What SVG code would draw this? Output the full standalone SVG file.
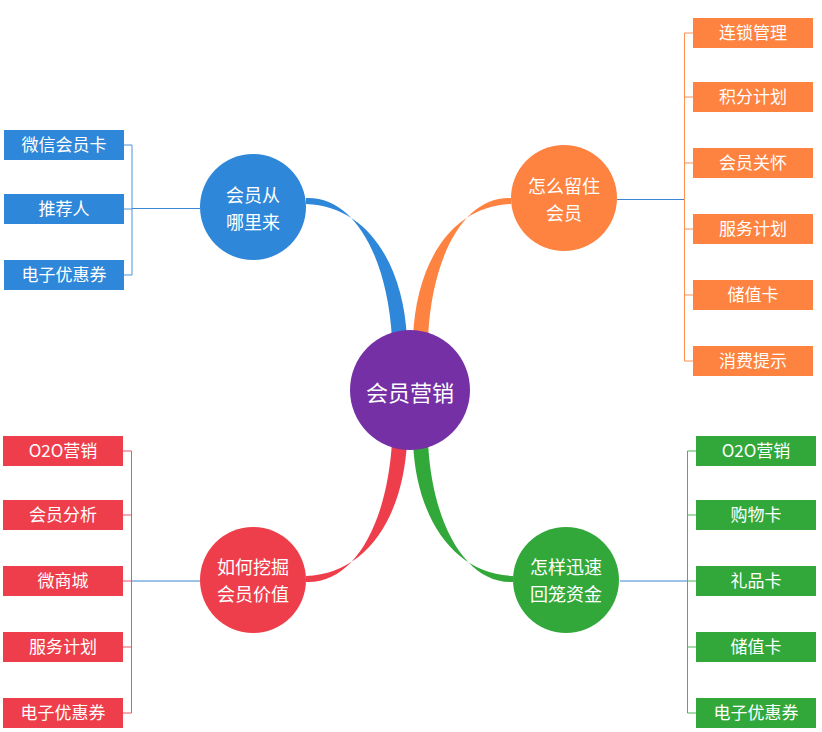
<svg xmlns="http://www.w3.org/2000/svg" width="822" height="732" viewBox="0 0 822 732">
<style>
.t{font-family:"Noto Sans CJK SC","Microsoft YaHei",sans-serif;fill:#fff;text-anchor:middle;dominant-baseline:central}
.bx{font-size:17px}
.ct{font-size:18px}
.br{fill:none;stroke-width:1}
.blue{fill:#2e87d9}.orange{fill:#ff8340}.red{fill:#ee3e4b}.green{fill:#32a83b}
.sb{stroke:#4a94dc}.so{stroke:#ff9050}.sr{stroke:#ee5562}.sg{stroke:#4cb355}
.link{stroke:#3a86d4;stroke-width:1.2;fill:none}
</style>
<rect width="822" height="732" fill="#fff"/>
<g id="connectors">
  <path class="blue" d="M306,198 C354,196 387,256 392,338 L407,338 C403,262 366,206 306,204 Z"/>
  <path class="orange" d="M511,198 C464,196 432,256 428,338 L413,338 C416,262 452,206 511,204 Z"/>
  <path class="red" d="M306,582 C354,584 387,524 392,442 L407,442 C403,518 366,574 306,576 Z"/>
  <path class="green" d="M513,582 C466,584 432,524 428,442 L413,442 C416,518 454,574 513,576 Z"/>
  <path class="link" d="M132,208.5 H200"/>
  <path class="br sb" d="M124,145 H132 V275 H124 M124,209 H132"/>
  <path class="link" d="M617,199.5 H684.5"/>
  <path class="br so" d="M693,33 H684.5 V361 H693 M684.5,97 H693 M684.5,163 H693 M684.5,229 H693 M684.5,295 H693"/>
  <path class="link" d="M131.5,581 H200"/>
  <path class="br sr" d="M123,451 H131.5 V713 H123 M123,515 H131.5 M123,581 H131.5 M123,647 H131.5"/>
  <path class="link" d="M620,581 H687.5"/>
  <path class="br sg" d="M696,451 H687.5 V713 H696 M687.5,515 H696 M687.5,581 H696 M687.5,647 H696"/>
</g>
<g id="center">
  <circle cx="410" cy="390" r="60" fill="#7530a5"/>
  <text class="t" x="410" y="391" font-size="22">会员营销</text>
</g>
<g id="where">
  <circle class="blue" cx="253" cy="207" r="53"/>
  <text class="t ct" x="253" y="194">会员从</text>
  <text class="t ct" x="253" y="221">哪里来</text>
</g>
<g id="keep">
  <circle class="orange" cx="564" cy="198" r="53"/>
  <text class="t ct" x="564" y="185">怎么留住</text>
  <text class="t ct" x="564" y="212">会员</text>
</g>
<g id="value">
  <circle class="red" cx="253" cy="580" r="53"/>
  <text class="t ct" x="253" y="566">如何挖掘</text>
  <text class="t ct" x="253" y="593">会员价值</text>
</g>
<g id="fund">
  <circle class="green" cx="566" cy="580" r="53"/>
  <text class="t ct" x="566" y="566">怎样迅速</text>
  <text class="t ct" x="566" y="593">回笼资金</text>
</g>
<g id="b1"><rect class="blue" x="4" y="130" width="120" height="30"/><text class="t bx" x="64" y="143.5">微信会员卡</text></g>
<g id="b2"><rect class="blue" x="4" y="194" width="120" height="30"/><text class="t bx" x="64" y="207.5">推荐人</text></g>
<g id="b3"><rect class="blue" x="4" y="260" width="120" height="30"/><text class="t bx" x="64" y="273.5">电子优惠券</text></g>
<g id="o1"><rect class="orange" x="693" y="18" width="120" height="30"/><text class="t bx" x="753" y="31.5">连锁管理</text></g>
<g id="o2"><rect class="orange" x="693" y="82" width="120" height="30"/><text class="t bx" x="753" y="95.5">积分计划</text></g>
<g id="o3"><rect class="orange" x="693" y="148" width="120" height="30"/><text class="t bx" x="753" y="161.5">会员关怀</text></g>
<g id="o4"><rect class="orange" x="693" y="214" width="120" height="30"/><text class="t bx" x="753" y="227.5">服务计划</text></g>
<g id="o5"><rect class="orange" x="693" y="280" width="120" height="30"/><text class="t bx" x="753" y="293.5">储值卡</text></g>
<g id="o6"><rect class="orange" x="693" y="346" width="120" height="30"/><text class="t bx" x="753" y="359.5">消费提示</text></g>
<g id="r1"><rect class="red" x="3" y="436" width="120" height="30"/><text class="t bx" x="63" y="449.5">O2O营销</text></g>
<g id="r2"><rect class="red" x="3" y="500" width="120" height="30"/><text class="t bx" x="63" y="513.5">会员分析</text></g>
<g id="r3"><rect class="red" x="3" y="566" width="120" height="30"/><text class="t bx" x="63" y="579.5">微商城</text></g>
<g id="r4"><rect class="red" x="3" y="632" width="120" height="30"/><text class="t bx" x="63" y="645.5">服务计划</text></g>
<g id="r5"><rect class="red" x="3" y="698" width="120" height="30"/><text class="t bx" x="63" y="711.5">电子优惠券</text></g>
<g id="g1"><rect class="green" x="696" y="436" width="120" height="30"/><text class="t bx" x="756" y="449.5">O2O营销</text></g>
<g id="g2"><rect class="green" x="696" y="500" width="120" height="30"/><text class="t bx" x="756" y="513.5">购物卡</text></g>
<g id="g3"><rect class="green" x="696" y="566" width="120" height="30"/><text class="t bx" x="756" y="579.5">礼品卡</text></g>
<g id="g4"><rect class="green" x="696" y="632" width="120" height="30"/><text class="t bx" x="756" y="645.5">储值卡</text></g>
<g id="g5"><rect class="green" x="696" y="698" width="120" height="30"/><text class="t bx" x="756" y="711.5">电子优惠券</text></g>
</svg>
